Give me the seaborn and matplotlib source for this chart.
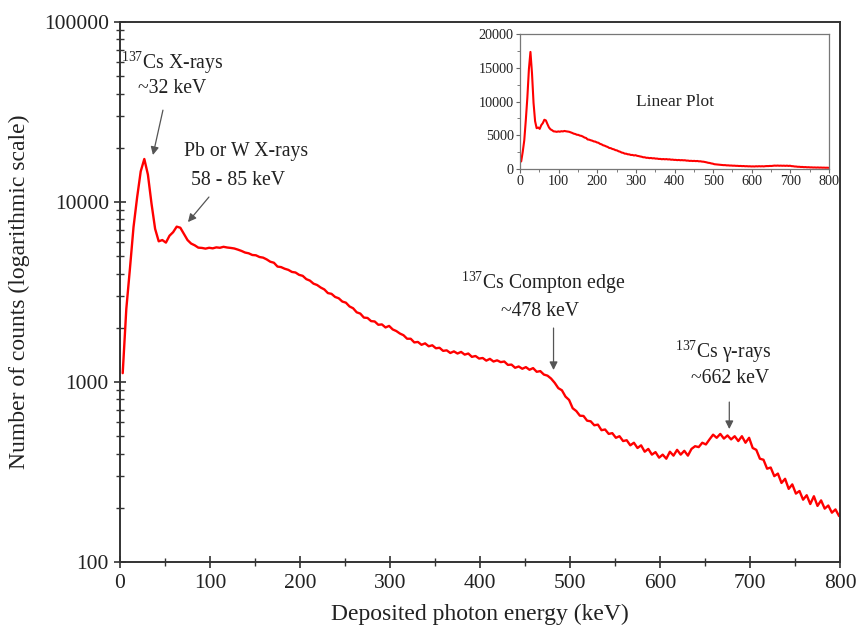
import numpy as np
import pandas as pd
import matplotlib
matplotlib.use("Agg")
import matplotlib.pyplot as plt
from matplotlib.ticker import LogLocator, NullFormatter, MultipleLocator, FixedLocator
import seaborn as sns

# Gamma spectrum of a 137Cs source, 4 keV channels starting at 3 keV
channel_start_kev = 3
channel_width_kev = 4
counts = [
    # 3 - 39 keV
    1120, 2550, 4250, 7250, 10600, 14800, 17350, 14200, 9800, 7100,
    # 43 - 79 keV
    6050, 6150, 5950, 6500, 6800, 7300, 7200, 6650, 6150, 5880,
    # 83 - 119 keV
    5750, 5580, 5560, 5510, 5570, 5530, 5600, 5570, 5640, 5590,
    # 123 - 159 keV
    5560, 5520, 5440, 5350, 5240, 5190, 5080, 5060, 4950, 4910,
    # 163 - 199 keV
    4800, 4660, 4600, 4380, 4350, 4260, 4200, 4090, 4060, 3940,
    # 203 - 239 keV
    3890, 3730, 3660, 3520, 3460, 3350, 3270, 3120, 3090, 2970,
    # 243 - 279 keV
    2920, 2800, 2760, 2630, 2570, 2440, 2400, 2280, 2270, 2180,
    # 283 - 319 keV
    2170, 2080, 2090, 2010, 2050, 1960, 1920, 1860, 1820, 1740,
    # 323 - 359 keV
    1740, 1660, 1670, 1610, 1640, 1580, 1600, 1540, 1550, 1490,
    # 363 - 399 keV
    1500, 1450, 1480, 1440, 1470, 1420, 1440, 1380, 1395, 1350,
    # 403 - 439 keV
    1360, 1315, 1345, 1300, 1320, 1290, 1300, 1245, 1250, 1200,
    # 443 - 479 keV
    1220, 1185, 1210, 1170, 1195, 1140, 1150, 1100, 1085, 1045,
    # 483 - 519 keV
    990, 925, 900, 830, 795, 715, 690, 650, 648, 610,
    # 523 - 559 keV
    605, 575, 580, 540, 545, 515, 520, 490, 500, 470,
    # 563 - 599 keV
    475, 445, 460, 430, 445, 410, 425, 395, 408, 380,
    # 603 - 639 keV
    395, 375, 410, 390, 420, 395, 415, 390, 425, 440,
    # 643 - 679 keV
    435, 460, 450, 480, 510, 490, 515, 485, 505, 480,
    # 683 - 719 keV
    500, 470, 500, 460, 490, 430, 420, 375, 370, 330,
    # 723 - 759 keV
    335, 300, 310, 275, 290, 255, 270, 240, 248, 222,
    # 763 - 799 keV
    235, 210, 232, 205, 220, 198, 206, 188, 196, 180,
]
energy = channel_start_kev + channel_width_kev * np.arange(len(counts))
spectrum = pd.DataFrame({"energy": energy, "counts": counts})

# Labelled features: two text lines (x, y each), then arrow start and arrow tip
annotations = [
    ((r"$^{\mathrm{137}}$Cs X-rays", 57.7, 59000), ("~32 keV", 57.7, 43000),
     (47.7, 32400), (36.6, 18250)),
    (("Pb or W X-rays", 140, 19000), ("58 - 85 keV", 131, 13100),
     (98.8, 10660), (75.5, 7740)),
    ((r"$^{\mathrm{137}}$Cs Compton edge", 470.6, 3550), ("~478 keV", 467, 2450),
     (481.7, 1995), (481.7, 1166)),
    ((r"$^{\mathrm{137}}$Cs $\mathrm{\gamma}$-rays", 670, 1468), ("~662 keV", 678, 1040),
     (677, 774), (677, 548)),
]

sns.set_style("ticks")
plt.rcParams["font.family"] = ["Liberation Serif", "DejaVu Serif"]
plt.rcParams["mathtext.fontset"] = "custom"
plt.rcParams["mathtext.rm"] = "Liberation Serif"
plt.rcParams["mathtext.it"] = "Liberation Serif:italic"

axis_color = "#333333"
text_color = "#222222"

fig = plt.figure(figsize=(8.56, 6.30), dpi=100)
ax = fig.add_axes([0.1402, 0.1079, 0.8411, 0.8571])

sns.lineplot(data=spectrum, x="energy", y="counts", ax=ax, color="#ff0000",
             linewidth=1.7, estimator=None, sort=True)
ax.set_yscale("log")
ax.set_xlim(0, 800)
ax.set_ylim(100, 100000)
ax.xaxis.set_major_locator(MultipleLocator(100))
ax.xaxis.set_minor_locator(MultipleLocator(50))
ax.yaxis.set_major_locator(FixedLocator([100, 1000, 10000, 100000]))
ax.yaxis.set_minor_locator(LogLocator(base=10, subs=np.arange(2, 10)))
ax.yaxis.set_minor_formatter(NullFormatter())
ax.set_yticklabels(["100", "1000", "10000", "100000"])
ax.tick_params(axis="both", which="major", direction="inout", length=9, width=1.2,
               colors=axis_color, labelsize=15.5, labelcolor=text_color)
ax.tick_params(axis="both", which="minor", direction="inout", length=6, width=1.0,
               colors=axis_color)
ax.tick_params(axis="x", pad=4)
for side in ["left", "bottom", "right", "top"]:
    ax.spines[side].set_color(axis_color)
    ax.spines[side].set_linewidth(1.4)
ax.set_xlabel("Deposited photon energy (keV)", fontsize=17, color=text_color, labelpad=8)
ax.set_ylabel("Number of counts (logarithmic scale)", fontsize=17, color=text_color, labelpad=10)

for (t1, x1, y1), (t2, x2, y2), start, tip in annotations:
    ax.text(x1, y1, t1, ha="center", va="center", fontsize=14.2, color=text_color)
    ax.text(x2, y2, t2, ha="center", va="center", fontsize=14.2, color=text_color)
    ax.annotate("", xy=tip, xytext=start,
                arrowprops=dict(arrowstyle="-|>", color="#555555", lw=0.9,
                                mutation_scale=12, shrinkA=0, shrinkB=0))

# Same spectrum on a linear scale
inset = fig.add_axes([0.6075, 0.7317, 0.3610, 0.2143])
sns.lineplot(data=spectrum, x="energy", y="counts", ax=inset, color="#ff0000",
             linewidth=1.5, estimator=None, sort=True)
inset.set_xlim(0, 800)
inset.set_ylim(0, 20000)
inset.xaxis.set_major_locator(MultipleLocator(100))
inset.xaxis.set_minor_locator(MultipleLocator(50))
inset.yaxis.set_major_locator(MultipleLocator(5000))
inset.yaxis.set_minor_locator(MultipleLocator(2500))
inset.tick_params(axis="both", which="major", direction="out", length=3, width=0.8,
                  colors="#666666", labelsize=10.2, labelcolor=text_color, pad=1.5)
inset.tick_params(axis="both", which="minor", direction="out", length=2, width=0.6,
                  colors="#666666")
for side in ["left", "bottom", "right", "top"]:
    inset.spines[side].set_color("#777777")
    inset.spines[side].set_linewidth(0.9)
inset.set_xlabel("")
inset.set_ylabel("")
inset.text(0.5, 0.5, "Linear Plot", transform=inset.transAxes, ha="center",
           va="center", fontsize=12.5, color=text_color)

fig.savefig("out.png", dpi=100)
